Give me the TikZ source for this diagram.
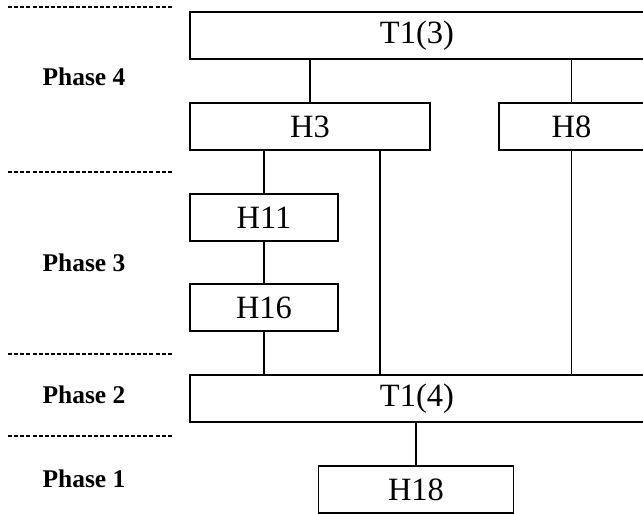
\documentclass[tikz,border=0pt]{standalone}
\usepackage{fontspec}
\setmainfont{Liberation Serif}
\begin{document}
\begin{tikzpicture}[x=0.02cm,y=-0.02cm,line width=0.8pt,
    blk/.style={draw,fill=white,inner sep=0pt,minimum height=0.94cm,font=\fontsize{18.5}{22}\selectfont},
    phase/.style={font=\fontsize{14.5}{17}\selectfont\bfseries},
    sep/.style={dash pattern=on 2.3pt off 1.2pt,line width=0.7pt}]
     \useasboundingbox (0,0) rectangle (643,514);
     \draw[sep] (8,7) -- (172,7);
     \draw[sep] (8,172) -- (172,172);
     \draw[sep] (8,354) -- (172,354);
     \draw[sep] (8,436) -- (172,436);
     \node[phase] (p4) at (84,77) {Phase 4};
     \node[phase] (p3) at (84,263) {Phase 3};
     \node[phase] (p2) at (84,395) {Phase 2};
     \node[phase] (p1) at (84,479) {Phase 1};
     \node[blk,minimum width=9.08cm] (t13) at (417,35.5) {T1(3)};
     \node[blk,minimum width=4.8cm] (h3) at (310,126.5) {H3};
     \node[blk,minimum width=2.9cm] (h8) at (571.5,126.5) {H8};
     \node[blk,minimum width=2.96cm] (h11) at (264,217.5) {H11};
     \node[blk,minimum width=2.96cm] (h16) at (264,307.5) {H16};
     \node[blk,minimum width=9.08cm] (t14) at (417,398.5) {T1(4)};
     \node[blk,minimum width=3.9cm] (h18) at (416,489.5) {H18};
     \draw (h3.north) -- (h3.north |- t13.south);
     \draw (h8.north) -- (h8.north |- t13.south);
     \draw (h11.north) -- (h11.north |- h3.south);
     \draw (h11) -- (h16);
     \draw (h16.south) -- (h16.south |- t14.north);
     \draw ([xshift=1.4cm]h3.south) -- ([xshift=1.4cm]h3.south |- t14.north);
     \draw (h8.south) -- (h8.south |- t14.north);
     \draw (h18.north) -- (h18.north |- t14.south);
\end{tikzpicture}
\end{document}
